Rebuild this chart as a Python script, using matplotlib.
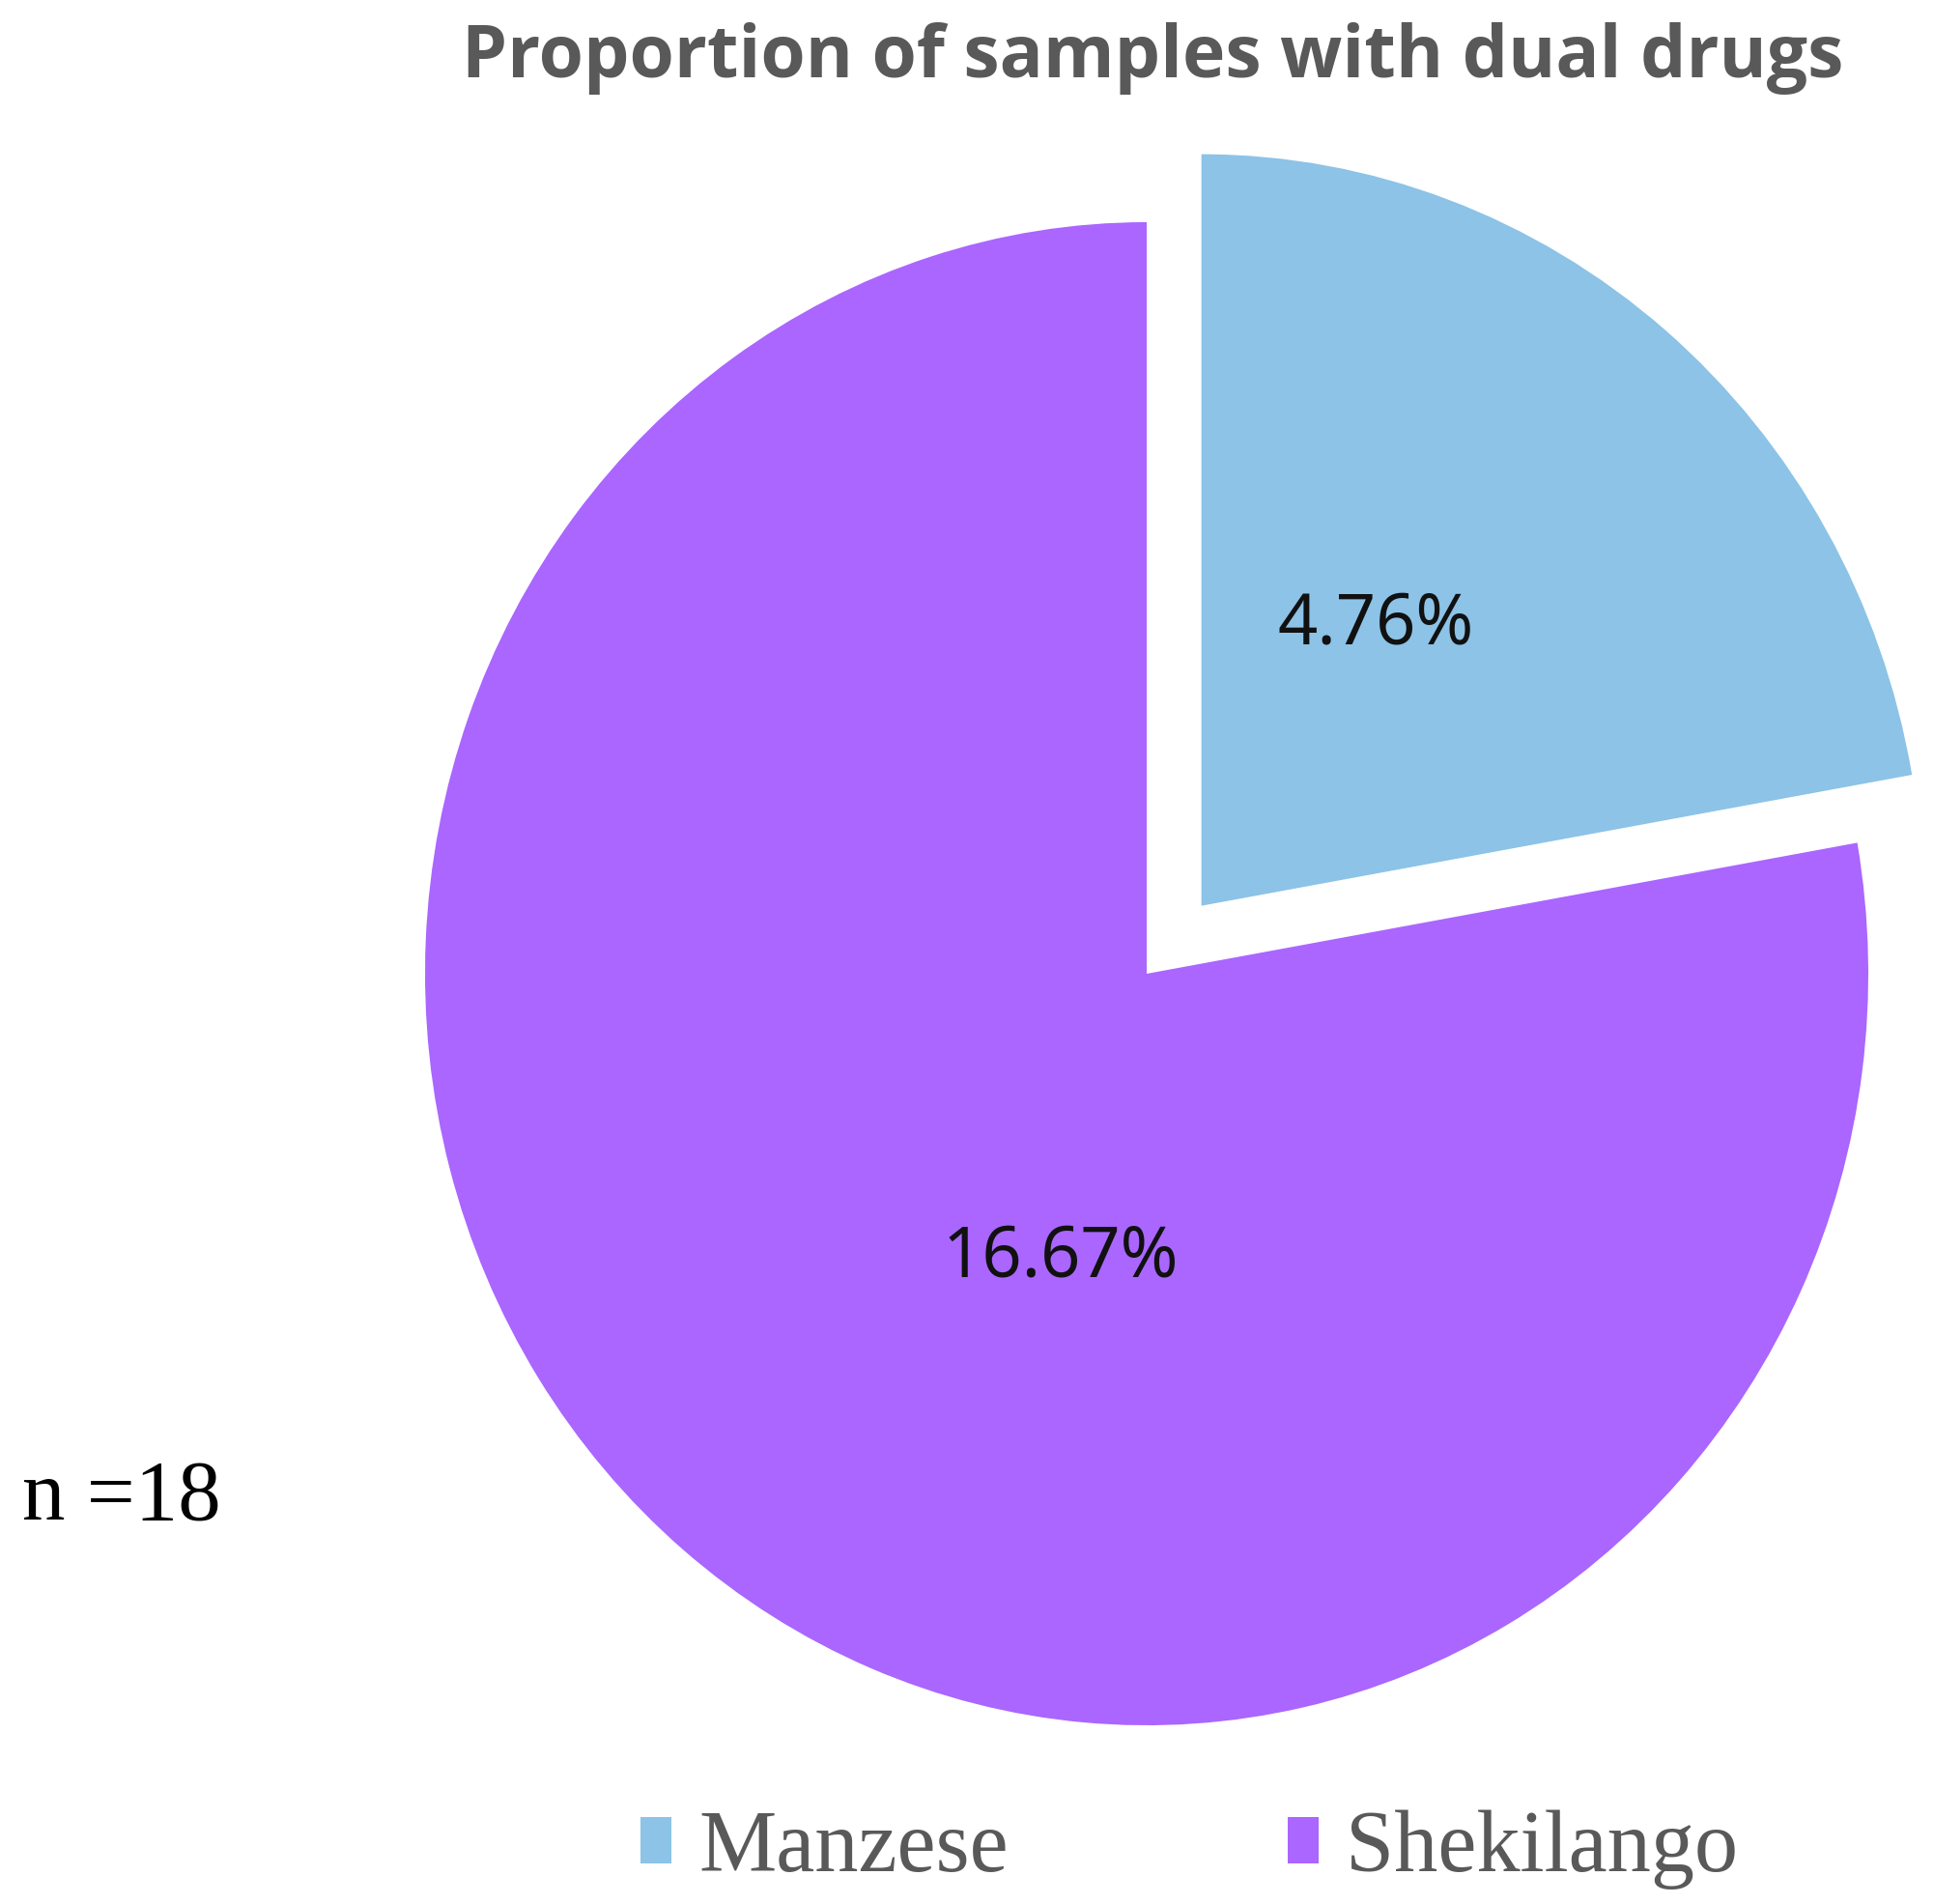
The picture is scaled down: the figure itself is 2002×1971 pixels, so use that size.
import numpy as np
import matplotlib
matplotlib.use("Agg")
import matplotlib.pyplot as plt

# data
sites = ["Manzese", "Shekilango"]
shares = [4.76, 16.67]
colors = ["#8CC3E7", "#AA66FF"]
n_total = 18

W, H = 2002, 1971
fig = plt.figure(figsize=(W / 100, H / 100), dpi=100)

# pie centre ~ (1187, 1008) px, radii ~ 747 x 778 px (slightly stretched)
lim = 1.12
cx, cy, rx, ry = 1187, 1008, 747, 778
ax = fig.add_axes([(cx - lim * rx) / W, (H - cy - lim * ry) / H,
                   2 * lim * rx / W, 2 * lim * ry / H])
wedges, _ = ax.pie(shares, colors=colors, startangle=90, counterclock=False,
                   explode=[0.118, 0], radius=1.0)
ax.set_aspect("auto")
ax.set_xlim(-lim, lim)
ax.set_ylim(-lim, lim)
ax.axis("off")

# value labels
label_pos = [(0.317, 0.464), (-0.119, -0.378)]
for (x, y), v in zip(label_pos, shares):
    ax.text(x, y, f"{v:.2f}%", ha="center", va="center",
            fontsize=52, family="Noto Sans", color="#111111")

fig.text(1193 / W, 1 - 60 / H, "Proportion of samples with dual drugs",
         ha="center", va="center", fontsize=54, fontweight="bold",
         family="Open Sans", color="#595959")

fig.text(23 / W, 1 - 1551 / H, f"n ={n_total}", ha="left", va="center",
         fontsize=64, family="Liberation Serif", color="black")

fig.legend(wedges, sites, loc="center", bbox_to_anchor=(1231 / W, 56 / H),
           ncol=2, frameon=False, fontsize=65, handlelength=0.36,
           handleheight=0.45, handletextpad=0.31, columnspacing=3.2,
           labelcolor="#595959", prop={"family": "Liberation Serif", "size": 65})

fig.savefig("out.png", dpi=100)
